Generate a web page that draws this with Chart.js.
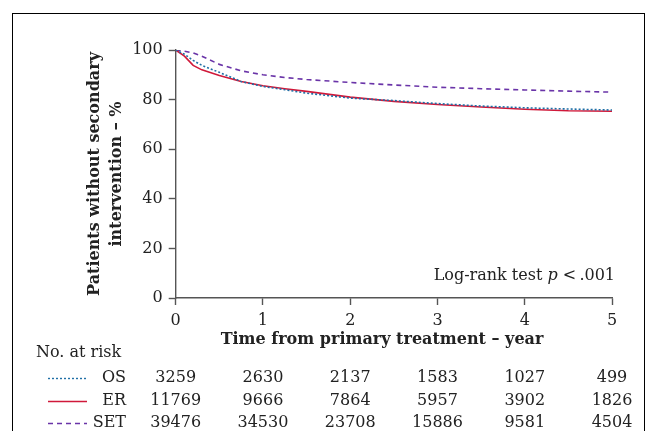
<!DOCTYPE html>
<html lang="en">
<head>
<meta charset="UTF-8" />
<title>Patients without secondary intervention</title>
<style>
  html, body { margin: 0; padding: 0; background: #fff; }
  #wrap { position: relative; width: 645px; height: 431px; overflow: hidden; }
  #frame {
    position: absolute; left: 12px; top: 13px; width: 633px; height: 440px;
    box-sizing: border-box; border: 1px solid #000;
  }
  canvas { position: absolute; left: 0; top: 0; }
</style>
</head>
<body>
<div id="wrap">
  <div id="frame"></div>
  <canvas id="km" width="645" height="431"></canvas>
</div>

<script src="https://cdn.jsdelivr.net/npm/chart.js"></script>
<script>
// ===== data =====
const timeYears = [0, 0.1, 0.2, 0.3, 0.5, 0.75, 1.0, 1.25, 1.5, 2.0, 2.5, 3.0, 3.5, 4.0, 4.5, 5.0];
const osSurv  = [100, 98.3, 95.8, 93.8, 91.0, 87.3, 85.3, 84.0, 82.6, 80.6, 79.6, 78.4, 77.4, 76.7, 76.2, 75.8];
const erSurv  = [100, 97.5, 93.8, 92.0, 89.7, 87.3, 85.6, 84.4, 83.3, 81.0, 79.3, 78.0, 77.0, 76.1, 75.5, 75.3];
const setSurv = [100, 99.5, 98.8, 97.5, 94.2, 91.6, 90.0, 88.9, 88.1, 86.9, 85.9, 85.0, 84.4, 83.9, 83.4, 83.0];

const groups = ["OS", "ER", "SET"];
const riskYears = [0, 1, 2, 3, 4, 5];
const riskOS  = [3259, 2630, 2137, 1583, 1027, 499];
const riskER  = [11769, 9666, 7864, 5957, 3902, 1826];
const riskSET = [39476, 34530, 23708, 15886, 9581, 4504];

const xTicks = [0, 1, 2, 3, 4, 5];
const yTicks = [0, 20, 40, 60, 80, 100];
const xTitle = "Time from primary treatment \u2013 year";
const yTitle = ["Patients without secondary", "intervention \u2013 %"];

// ===== styles =====
const SERIF = "'DejaVu Serif', 'Liberation Serif', serif";
const TXT = "#222";
const AXIS = "#555";
const styles = {
  OS:  { color: "#1f6fa6", dash: [2, 2] },
  ER:  { color: "#d0193a", dash: [] },
  SET: { color: "#6a34a8", dash: [5, 4] },
};

const pts = (vals) => timeYears.map((t, i) => ({ x: t, y: vals[i] }));
const mkSet = (name, vals) => ({
  label: name,
  data: pts(vals),
  borderColor: styles[name].color,
  borderDash: styles[name].dash,
  borderWidth: 1.6,
  pointRadius: 0,
  tension: 0,
  fill: false,
});

// x title, risk table and p-value note, drawn against the x scale
const extras = {
  id: "extras",
  afterDraw(chart) {
    const { ctx, scales: { x } } = chart;
    ctx.save();
    ctx.fillStyle = TXT;
    ctx.textBaseline = "middle";

    // x axis title (sits a little left of the axis centre in the original)
    ctx.font = "bold 16px " + SERIF;
    ctx.textAlign = "center";
    ctx.fillText(xTitle, 382, 340);

    // log-rank note
    const noteY = 276, noteRight = 615;
    const partA = "Log-rank test ", partP = "p", partB = " <\u2009.001";
    ctx.font = "16px " + SERIF;
    const wA = ctx.measureText(partA).width, wB = ctx.measureText(partB).width;
    ctx.font = "italic 16px " + SERIF;
    const wP = ctx.measureText(partP).width;
    let cx = noteRight - wA - wP - wB;
    ctx.font = "16px " + SERIF;
    ctx.textAlign = "left";
    ctx.fillText(partA, cx, noteY); cx += wA;
    ctx.font = "italic 16px " + SERIF;
    ctx.fillText(partP, cx, noteY); cx += wP;
    ctx.font = "16px " + SERIF;
    ctx.fillText(partB, cx, noteY);

    // number at risk
    ctx.textAlign = "left";
    ctx.fillText("No. at risk", 36, 353);
    const rows = [riskOS, riskER, riskSET];
    const rowY = [378, 401, 423];
    groups.forEach((g, r) => {
      const y = rowY[r];
      ctx.strokeStyle = styles[g].color;
      ctx.lineWidth = 1.4;
      ctx.setLineDash(styles[g].dash);
      ctx.beginPath();
      ctx.moveTo(48, y + 0.5);
      ctx.lineTo(87, y + 0.5);
      ctx.stroke();
      ctx.setLineDash([]);
      ctx.textAlign = "right";
      ctx.fillText(g, 126, y);
      ctx.textAlign = "center";
      rows[r].forEach((n, i) => {
        ctx.fillText(String(n), x.getPixelForValue(riskYears[i]), y);
      });
    });
    ctx.restore();
  },
};

new Chart(document.getElementById("km"), {
  type: "line",
  data: { datasets: [mkSet("OS", osSurv), mkSet("ER", erSurv), mkSet("SET", setSurv)] },
  options: {
    responsive: false,
    animation: false,
    events: [],
    layout: { padding: { top: 50, right: 33, bottom: 78, left: 0 } },
    plugins: { legend: { display: false }, tooltip: { enabled: false } },
    scales: {
      x: {
        type: "linear",
        min: 0, max: 5,
        afterBuildTicks: (s) => { s.ticks = xTicks.map((v) => ({ value: v })); },
        afterFit: (s) => { s.height = 55; },
        border: { display: true, color: AXIS, width: 1.4 },
        grid: { drawOnChartArea: false, drawTicks: true, tickLength: 7, color: AXIS, tickWidth: 1.4 },
        ticks: { color: TXT, font: { family: SERIF, size: 16 }, padding: 6, maxRotation: 0 },
        title: { display: false },
      },
      y: {
        min: 0, max: 100,
        afterBuildTicks: (s) => { s.ticks = yTicks.map((v) => ({ value: v })); },
        afterFit: (s) => { s.width = 175.7; },
        border: { display: true, color: AXIS, width: 1.4 },
        grid: { drawOnChartArea: false, drawTicks: true, tickLength: 7, color: AXIS, tickWidth: 1.4 },
        ticks: { color: TXT, font: { family: SERIF, size: 16 }, padding: 6 },
        title: {
          display: true,
          text: yTitle,
          color: TXT,
          font: { family: SERIF, size: 16, weight: "bold", lineHeight: 1.375 },
          padding: { top: 84, bottom: 0 },
        },
      },
    },
  },
  plugins: [extras],
});
</script>
</body>
</html>
